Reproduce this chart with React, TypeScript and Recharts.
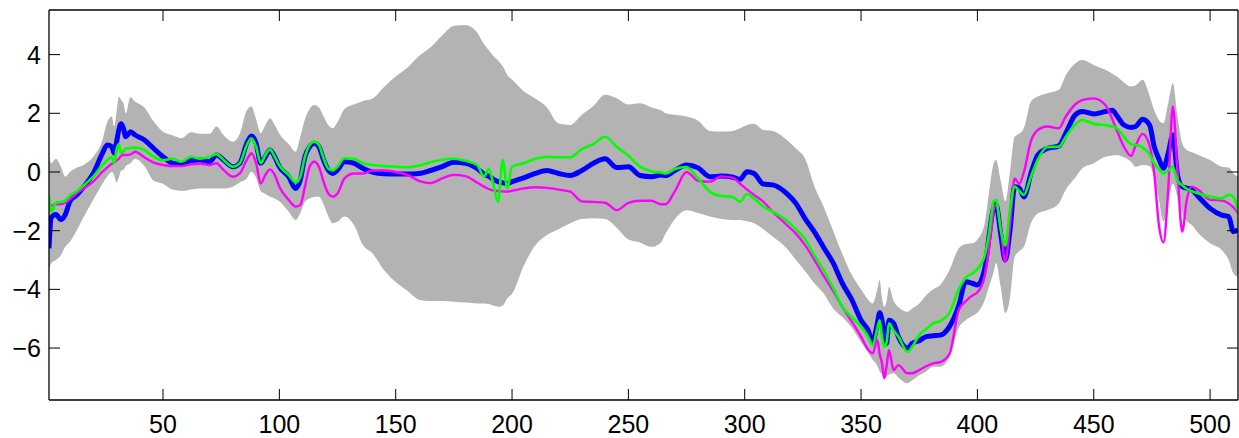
import { ComposedChart, Area, Line, XAxis, YAxis } from "recharts";

// sample positions along the x axis
const xs = [
  1, 2, 4, 6, 8, 10, 13, 16, 20, 24, 26, 28, 29, 30, 31, 32, 33, 34, 36, 38, 42, 46, 50, 54, 58, 62, 66, 70, 73, 76, 80,
  83, 86, 88, 90, 92, 94, 96, 98, 100, 104, 107, 109, 111, 113, 115, 117, 119, 121, 123, 125, 128, 132, 136, 140, 145,
  150, 155, 160, 165, 170, 175, 180, 185, 188, 190, 192, 194, 196, 198, 200, 205, 210, 215, 220, 225, 230, 235, 240,
  245, 250, 255, 260, 264, 266, 270, 275, 280, 285, 290, 295, 298, 301, 304, 308, 312, 318, 322, 326, 330, 334, 338,
  342, 346, 350, 353, 355, 357, 358, 359, 360, 361, 362, 364, 366, 370, 372, 375, 378, 381, 384, 388, 392, 395, 398,
  400, 403, 405, 407, 408, 410, 412, 414, 416, 418, 420, 423, 426, 430, 435, 438, 442, 445, 450, 455, 458, 460, 463,
  466, 468, 471, 474, 476, 478, 480, 482, 484, 486, 488, 490, 492, 495, 500, 505, 508, 510, 512,
];

const bandUpper = [
  0.47, 0.3, 0.45, 0.2, -0.16, 0.0, 0.15, 0.25, 0.52, 1.09, 1.7, 1.89, 1.55, 2.0, 2.57, 2.45, 2.34, 2.0, 2.55, 2.4, 2.2,
  1.72, 1.37, 1.25, 1.15, 1.35, 1.3, 1.3, 1.55, 1.26, 1.03, 1.3, 2.1, 2.23, 1.8, 1.32, 1.6, 1.83, 1.6, 1.3, 0.95, 0.69,
  1.2, 1.8, 2.15, 2.28, 2.2, 1.9, 1.6, 1.49, 1.7, 2.15, 2.3, 2.42, 2.5, 2.9, 3.25, 3.55, 3.95, 4.25, 4.65, 4.98, 5.01,
  4.75, 4.35, 4.15, 3.95, 3.8, 3.6, 3.3, 3.15, 2.75, 2.5, 2.2, 1.65, 1.6, 1.95, 2.25, 2.63, 2.51, 2.3, 2.34, 2.2, 2.1,
  2.0, 1.95, 1.89, 1.75, 1.4, 1.38, 1.4, 1.49, 1.6, 1.64, 1.43, 1.4, 1.1, 0.8, 0.45, -0.5, -1.2, -2.0, -2.8, -3.5, -4.0,
  -4.35, -4.48, -4.0, -3.68, -4.3, -4.6, -4.4, -3.91, -4.4, -4.6, -4.76, -4.65, -4.48, -4.2, -4.0, -3.85, -3.34, -2.6,
  -2.45, -2.43, -2.3, -1.8, -0.7, 0.3, 0.41, -0.3, -1.0, 0.0, 1.2, 1.3, 1.5, 2.4, 2.57, 2.68, 2.8, 3.3, 3.7, 3.82, 3.65,
  3.48, 3.35, 3.25, 3.05, 2.91, 2.95, 3.14, 2.6, 2.1, 1.77, 1.66, 2.34, 3.02, 1.89, 0.98, 0.75, 0.68, 0.58, 0.41, 0.18,
  0.15, -0.05, -0.16,
];

const bandLower = [
  -3.3, -3.1, -3.0, -2.85, -2.55, -2.38, -1.98, -1.52, -0.95, -0.39, -0.15, 0.0, -0.1, -0.36, -0.2, 0.05, 0.07, 0.2, 0.3,
  0.45, 0.2, -0.3, -0.4, -0.6, -0.65, -0.6, -0.56, -0.56, -0.56, -0.56, -0.5, -0.35, -0.22, 0.01, -0.2, -0.65, -0.75,
  -0.84, -0.9, -1.0, -1.35, -1.64, -1.4, -1.01, -0.9, -0.85, -0.84, -1.1, -1.5, -1.75, -1.7, -1.52, -1.8, -2.5, -2.77,
  -3.35, -3.75, -4.05, -4.35, -4.4, -4.4, -4.42, -4.45, -4.48, -4.48, -4.5, -4.55, -4.59, -4.55, -4.3, -4.15, -3.2, -2.5,
  -2.15, -1.95, -1.75, -1.6, -1.58, -1.6, -1.9, -2.3, -2.4, -2.55, -2.4, -2.1, -1.6, -1.3, -1.4, -1.52, -1.6, -1.64,
  -1.64, -1.68, -1.75, -1.95, -2.2, -2.6, -3.0, -3.38, -3.8, -4.15, -4.65, -4.95, -5.3, -5.8, -6.15, -6.4, -6.6, -6.8,
  -6.9, -6.98, -6.95, -6.9, -6.86, -7.0, -7.2, -7.1, -6.93, -6.8, -6.64, -6.64, -6.3, -5.3, -5.05, -4.9, -4.8, -4.4, -3.9,
  -3.4, -3.1, -3.9, -4.8, -4.3, -2.9, -2.7, -2.55, -1.75, -1.41, -1.3, -1.07, -0.6, -0.2, 0.12, 0.3, 0.52, 0.56, 0.58,
  0.5, 0.35, 0.18, 0.24, 0.2, -0.2, -0.95, -1.69, -1.07, -0.39, -0.84, -1.41, -1.69, -1.8, -2.09, -2.43, -2.66, -3.0,
  -3.45, -3.57,
];

const blueSeries = [
  -2.6, -1.55, -1.45, -1.62, -1.45, -1.0, -0.78, -0.5, -0.05, 0.64, 0.92, 0.86, 0.64, 1.0, 1.43, 1.64, 1.49, 1.2, 1.37,
  1.26, 1.09, 0.8, 0.52, 0.3, 0.27, 0.39, 0.41, 0.35, 0.58, 0.41, 0.18, 0.3, 0.98, 1.23, 0.98, 0.3, 0.52, 0.75, 0.52,
  0.18, -0.16, -0.56, -0.27, 0.52, 0.86, 0.98, 0.86, 0.41, 0.07, -0.05, 0.07, 0.35, 0.3, 0.12, 0.0, -0.06, -0.07, -0.07,
  -0.05, 0.05, 0.18, 0.33, 0.3, 0.12, -0.07, -0.15, -0.25, -0.33, -0.37, -0.39, -0.33, -0.2, -0.05, 0.05, -0.05, -0.12,
  0.05, 0.3, 0.45, 0.15, 0.18, -0.12, -0.16, -0.1, -0.12, 0.05, 0.24, 0.14, -0.16, -0.14, -0.18, -0.25, 0.01, -0.05,
  -0.41, -0.44, -0.73, -1.07, -1.6, -2.05, -2.58, -3.1, -3.8, -4.35, -5.05, -5.39, -5.78, -5.16, -4.8, -5.05, -5.5,
  -5.84, -5.05, -5.16, -5.61, -6.01, -5.84, -5.75, -5.61, -5.58, -5.56, -5.27, -4.55, -3.74, -3.8, -3.85, -3.35, -2.2,
  -1.2, -1.1, -2.1, -3.0, -2.0, -0.5, -0.55, -0.85, -0.05, 0.58, 0.8, 0.89, 1.32, 1.94, 2.06, 1.98, 2.06, 2.1, 1.91, 1.6,
  1.52, 1.55, 1.8, 1.6, 0.86, 0.45, 0.13, 0.64, 1.26, -0.1, -0.5, -0.55, -0.6, -0.84, -1.24, -1.47, -1.52, -2.03, -1.98,
];

const greenSeries = [
  -0.8, -1.35, -1.05, -1.02, -0.98, -0.8, -0.65, -0.45, -0.16, 0.24, 0.4, 0.52, 0.3, 0.75, 0.95, 0.64, 0.7, 0.8, 0.82,
  0.83, 0.75, 0.52, 0.4, 0.45, 0.35, 0.52, 0.45, 0.52, 0.61, 0.41, 0.18, 0.3, 0.92, 1.15, 0.86, 0.3, 0.58, 0.77, 0.52,
  0.22, -0.1, -0.36, -0.16, 0.52, 0.92, 1.03, 0.92, 0.47, 0.12, 0.05, 0.18, 0.47, 0.45, 0.3, 0.24, 0.2, 0.18, 0.16, 0.22,
  0.33, 0.42, 0.45, 0.38, 0.24, -0.16, 0.12, -0.44, -1.01, 0.41, -0.56, 0.18, 0.3, 0.45, 0.52, 0.5, 0.5, 0.78, 0.95,
  1.2, 0.86, 0.55, 0.18, 0.02, -0.02, -0.05, 0.1, 0.17, -0.22, -0.67, -0.82, -0.86, -1.01, -0.75, -0.9, -1.18, -1.35,
  -1.65, -1.95, -2.3, -2.85, -3.35, -3.95, -4.6, -4.95, -5.27, -5.6, -5.9, -5.33, -5.05, -5.6, -5.95, -5.8, -5.16, -5.4,
  -5.61, -6.13, -5.95, -5.56, -5.35, -5.16, -5.08, -4.8, -4.0, -3.6, -3.45, -3.3, -2.9, -2.1, -1.0, -0.95, -1.95, -2.5,
  -1.3, -0.5, -0.65, -0.78, -0.16, 0.43, 0.85, 0.86, 1.2, 1.62, 1.77, 1.64, 1.6, 1.55, 1.49, 1.2, 0.95, 0.92, 0.84, 0.6,
  0.3, 0.1, -0.05, 0.05, 0.18, -0.3, -0.45, -0.58, -0.65, -0.73, -0.84, -0.9, -0.78, -0.84, -1.35,
];

const magentaSeries = [
  -1.2, -1.15, -1.1, -1.1, -1.05, -0.92, -0.72, -0.56, -0.33, 0.01, 0.15, 0.28, 0.32, 0.4, 0.45, 0.55, 0.58, 0.58, 0.6,
  0.69, 0.5, 0.32, 0.24, 0.2, 0.2, 0.26, 0.28, 0.24, 0.3, 0.07, -0.16, -0.05, 0.41, 0.64, 0.3, -0.39, -0.1, 0.09, -0.1,
  -0.5, -0.95, -1.18, -1.12, -0.5, 0.18, 0.35, 0.18, -0.33, -0.73, -0.84, -0.73, -0.22, -0.05, -0.05, 0.05, 0.05, 0.0,
  -0.1, -0.3, -0.38, -0.22, -0.1, -0.14, -0.36, -0.5, -0.58, -0.63, -0.65, -0.66, -0.67, -0.64, -0.56, -0.52, -0.54,
  -0.6, -0.67, -1.0, -1.02, -1.05, -1.3, -1.05, -0.98, -0.98, -1.1, -1.1, -0.65, 0.0, -0.3, -0.33, -0.15, -0.2, -0.4,
  -0.6, -0.78, -1.01, -1.35, -1.8, -2.1, -2.5, -3.0, -3.55, -4.05, -4.6, -5.1, -5.61, -6.05, -6.18, -5.73, -6.2, -6.52,
  -7.03, -6.6, -6.07, -6.75, -6.58, -6.86, -6.86, -6.75, -6.62, -6.52, -6.48, -6.2, -4.7, -4.4, -4.2, -4.1, -3.6, -2.6,
  -1.3, -1.1, -1.9, -3.06, -1.8, -0.22, -0.4, 0.0, 1.05, 1.43, 1.55, 1.49, 1.89, 2.3, 2.45, 2.51, 2.28, 1.8, 1.4, 0.86,
  0.55, 0.9, 1.3, 0.9, -0.05, -1.8, -2.4, -0.6, 2.23, 0.0, -2.03, -0.95, -0.5, -0.61, -0.95, -0.97, -1.07, -1.2, -1.41,
];

const xTicks = [50, 100, 150, 200, 250, 300, 350, 400, 450, 500];
const yTicks = [-6, -4, -2, 0, 2, 4];

const rows = xs.map((x, i) => ({
  x,
  band: [bandLower[i], bandUpper[i]],
  blue: blueSeries[i],
  green: greenSeries[i],
  magenta: magentaSeries[i],
}));

const FONT = "'Liberation Sans', Arial, Helvetica, sans-serif";
const TICK_LEN = 11;
const fmt = (v: number) => (v < 0 ? "\u2212" + Math.abs(v) : String(v));

// plot box edges in pixels
const LEFT = 49;
const BOTTOM = 400;
const TOP = 10;
const RIGHT = 1238;

const BottomTick = ({ x, payload }: any) => (
  <g>
    <line x1={x} y1={BOTTOM} x2={x} y2={BOTTOM - TICK_LEN} stroke="#000" strokeWidth={1} />
    <text x={x} y={BOTTOM + 33} textAnchor="middle" fontSize={25} fontFamily={FONT} fill="#000">
      {fmt(payload.value)}
    </text>
  </g>
);

const LeftTick = ({ y, payload }: any) => (
  <g>
    <line x1={LEFT} y1={y} x2={LEFT + TICK_LEN} y2={y} stroke="#000" strokeWidth={1} />
    <text x={LEFT - 8} y={y + 9} textAnchor="end" fontSize={25} fontFamily={FONT} fill="#000">
      {fmt(payload.value)}
    </text>
  </g>
);

const TopTick = ({ x }: any) => <line x1={x} y1={TOP} x2={x} y2={TOP + TICK_LEN} stroke="#000" strokeWidth={1} />;

const RightTick = ({ y }: any) => <line x1={RIGHT} y1={y} x2={RIGHT - TICK_LEN} y2={y} stroke="#000" strokeWidth={1} />;

const axisLine = { stroke: "#000", strokeWidth: 1.3 };

export default function App() {
  return (
    <div style={{ position: "absolute", left: 0, top: 0, width: 1239, height: 438, background: "#fff" }}>
      <ComposedChart width={1239} height={438} data={rows} margin={{ top: 0, right: 0, bottom: 0, left: 0 }}>
        <Area
          dataKey="band"
          type="monotone"
          fill="#b3b3b3"
          fillOpacity={1}
          stroke="none"
          isAnimationActive={false}
          dot={false}
          activeDot={false}
        />
        <Line
          dataKey="blue"
          type="monotone"
          stroke="#0000ff"
          strokeWidth={5}
          dot={false}
          activeDot={false}
          isAnimationActive={false}
        />
        <Line
          dataKey="magenta"
          type="monotone"
          stroke="#ff00ff"
          strokeWidth={2.4}
          dot={false}
          activeDot={false}
          isAnimationActive={false}
        />
        <Line
          dataKey="green"
          type="monotone"
          stroke="#00ff00"
          strokeWidth={2.6}
          dot={false}
          activeDot={false}
          isAnimationActive={false}
        />
        <XAxis
          dataKey="x"
          type="number"
          domain={[1, 512]}
          allowDataOverflow
          ticks={xTicks}
          interval={0}
          height={438 - BOTTOM}
          tick={<BottomTick />}
          axisLine={axisLine}
          tickLine={false}
        />
        <XAxis
          xAxisId="top"
          orientation="top"
          dataKey="x"
          type="number"
          domain={[1, 512]}
          allowDataOverflow
          ticks={xTicks}
          interval={0}
          height={TOP}
          tick={<TopTick />}
          axisLine={axisLine}
          tickLine={false}
        />
        <YAxis
          type="number"
          domain={[-7.77, 5.52]}
          allowDataOverflow
          ticks={yTicks}
          interval={0}
          width={LEFT}
          tick={<LeftTick />}
          axisLine={axisLine}
          tickLine={false}
        />
        <YAxis
          yAxisId="right"
          orientation="right"
          type="number"
          domain={[-7.77, 5.52]}
          allowDataOverflow
          ticks={yTicks}
          interval={0}
          width={1239 - RIGHT}
          tick={<RightTick />}
          axisLine={axisLine}
          tickLine={false}
        />
      </ComposedChart>
    </div>
  );
}
